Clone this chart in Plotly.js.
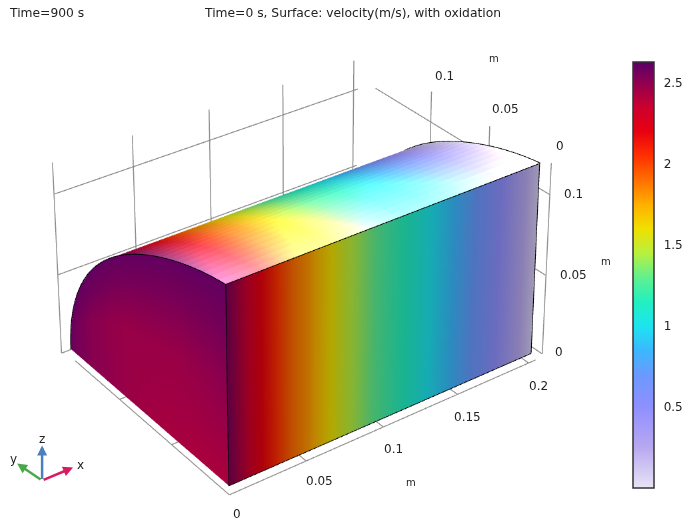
<!DOCTYPE html>
<html><head><meta charset="utf-8"><script src="https://cdn.plot.ly/plotly-3.0.1.min.js"></script>
<style>html,body{margin:0;padding:0;width:686px;height:525px;overflow:hidden;background:#fff}#g{position:absolute}</style></head><body><div id="g"></div>
<script>
var xStations=[0,.01,.02,.03,.04,.05,.06,.07,.08,.09,.1,.11,.12,.13,.14,.15,.16,.17,.18,.19,.2];
var velX=[2.55,2.38,2.2,2.05,1.9,1.8,1.65,1.52,1.42,1.31,1.22,1.15,1.07,.98,.88,.78,.68,.55,.41,.26,.1];
var arcT=[0,.0436,.0872,.1305,.1736,.2164,.2588,.3007,.342,.3827,.4226,.4617,.5,.5373,.5736,.6088,.6428,.6756,.7071,.7373,.766,.7934,.8192,.8434,.866,.887,.9063,.9239,.9397,.9537,.9659,.9763,.9848,.9914,.9962,.999,1];
var arcS=[1,.9935,.9854,.9755,.964,.9511,.9369,.9213,.9045,.8866,.8675,.8473,.826,.8037,.7803,.7557,.73,.7032,.6753,.6462,.616,.5847,.5521,.5184,.4837,.4478,.411,.3733,.3345,.2949,.2545,.2134,.1717,.1294,.0867,.0435,0];
var frontLow=[2.42,2.42,2.42,2.42,2.42,2.42,2.43,2.43,2.43,2.43,2.44,2.44,2.45,2.45,2.46,2.46,2.47,2.47,2.48,2.49,2.5,2.5,2.51,2.51,2.52,2.53,2.54,2.54,2.55,2.55,2.56,2.57,2.58,2.58,2.59,2.59,2.6];
var frontMid=[2.5,2.5,2.49,2.49,2.48,2.48,2.47,2.47,2.47,2.47,2.47,2.47,2.47,2.47,2.47,2.47,2.47,2.48,2.48,2.49,2.5,2.5,2.51,2.51,2.52,2.53,2.54,2.54,2.55,2.55,2.56,2.57,2.58,2.58,2.59,2.59,2.6];
var frontRim=arcT.map(function(){return 2.6});
var barTicks=[.5,1,1.5,2,2.5], barLabels=['0.5','1','1.5','2','2.5'];
var xTicks=[0,.05,.1,.15,.2], yTicks=[.05,.1], zTicks=[0,.05,.1];
var scale=[[0,'#e8e4f4'],[.095,'#b8a8f0'],[.19,'#8f8fff'],[.266,'#6b99ff'],[.323,'#3bb8ff'],[.38,'#1de4f0'],[.437,'#22f0c0'],[.494,'#60f090'],[.551,'#b8f040'],[.608,'#f0e000'],[.665,'#ffb000'],[.722,'#ff7000'],[.78,'#ff3000'],[.837,'#e80010'],[.894,'#cc0030'],[.951,'#900050'],[1,'#5a0068']];
var Rf=[[.8107,-.5858,-.004],[-.2432,-.331,-.9113],[.5321,.7417,-.4113]],t=[-.0267,.2769,1.2393],f=2478,px=276.4,py=-59;
var xR=.2118,yB=.1556,zT=.1192,yF=-.0022,xF=.0022,xO=.0036,yE=.1511,zO=.1215,yRE=.1502,zB=.0035;
var xs=xStations.map(function(v){return v+xO});
var ys=arcT.map(function(v){return v*yE}),zs=arcS.map(function(v){return zB+v*(zO-zB)});
var W=Math.round(.8284*f),H=W,L=px-W/2,T=py-H/2;
var g=document.getElementById('g');g.style.left=L+'px';g.style.top=T+'px';g.style.width=W+'px';g.style.height=H+'px';
var xr=[-.02,.24],yr=[-.02,.18],zr=[-.02,.14];
var K=5,mid=[.11,.08,.06];
var Cw=[0,1,2].map(function(i){return -(Rf[0][i]*t[0]+Rf[1][i]*t[1]+Rf[2][i]*t[2])});
var eye=[0,1,2].map(function(i){return (Cw[i]-mid[i])*K});
var fw=Rf[2],cen=eye.map(function(v,i){return v+fw[i]*6}),up=Rf[1].map(function(v){return -v});
function X(v){return (v-L)/W}function Y(v){return 1-(v-T)/H}
var common={colorscale:scale,cmin:0,cmax:2.63,showscale:false,hoverinfo:'skip'};
function surf(o){return Object.assign({type:'surface'},common,o)}
var traces=[];
traces.push(surf({x:xs,y:ys,z:ys.map(function(_,i){return xs.map(function(){return zs[i]})}),surfacecolor:ys.map(function(){return velX}),
 lighting:{ambient:.78,diffuse:0,specular:.95,roughness:.55,fresnel:.2},lightposition:{x:4600,y:8000,z:4000}}));
traces.push(surf({x:[xs,xs],y:[xs.map(function(){return 0}),xs.map(function(){return 0})],z:[xs.map(function(){return zB}),xs.map(function(){return zO})],surfacecolor:[velX,velX],lighting:{ambient:.75,diffuse:0,specular:0}}));
traces.push(surf({x:[0,1,2].map(function(){return ys.map(function(){return xO})}),y:[ys,ys,ys],z:[ys.map(function(){return zB}),zs.map(function(v){return (v+zB)*.5}),zs],surfacecolor:[frontLow,frontMid,frontRim],lighting:{ambient:.97,diffuse:0,specular:0}}));
traces[0].showscale=true;
traces[0].colorbar={x:X(633),xanchor:'left',y:Y(487),yanchor:'bottom',lenmode:'pixels',len:426,thicknessmode:'pixels',thickness:21,xpad:0,ypad:0,outlinecolor:'#333',outlinewidth:1.5,ticks:'outside',ticklen:7,tickcolor:'rgba(0,0,0,0)',tickvals:barTicks,ticktext:barLabels,tickfont:{family:'DejaVu Sans',size:12,color:'#222'}};
function line(xa,ya,za,c,w){return {type:'scatter3d',mode:'lines',x:xa,y:ya,z:za,line:{color:c,width:w},hoverinfo:'skip',showlegend:false}}
var gx=[],gy=[],gz=[];function seg(a,b){gx.push(a[0],b[0],null);gy.push(a[1],b[1],null);gz.push(a[2],b[2],null)}
xTicks.forEach(function(v,i){seg([v,yB,0],[v,yB,zT]);if(i)seg([v,yB,0],[v,yF,0])});
zTicks.forEach(function(v){seg([0,yB,v],[.203,yB,v]);seg([xR,0,v],[xR,yRE,v])});
seg([xR,0,0],[xR,0,zT]);yTicks.forEach(function(v){seg([xR,v,0],[xR,v,zT]);seg([xF,v,0],[.2,v,0])});
seg([xF,yF,0],[.205,yF,0]);seg([xF,yF,0],[xF,.145,0]);
traces.push(line(gx,gy,gz,'#8c8c8c',2));
var bx=[],by=[],bz=[],eps=.0006;function bs(a,b){bx.push(a[0]-eps,b[0]-eps,null);by.push(a[1]-eps,b[1]-eps,null);bz.push(a[2]+eps,b[2]+eps,null)}
var E=xs[xs.length-1];
ys.forEach(function(v,i){if(i){bs([xO,ys[i-1],zs[i-1]],[xO,v,zs[i]]);bs([E+eps,ys[i-1],zs[i-1]],[E+eps,v,zs[i]])}});
bs([xO,0,zB],[xO,0,zO]);bs([E,0,zB],[E,0,zO]);bs([xO,0,zO],[E,0,zO]);bs([xO,0,zB],[E,0,zB]);
traces.push(line(bx,by,bz,'#000',1.5));
var txt={family:'DejaVu Sans',size:12,color:'#222'},head={family:'DejaVu Sans',size:12.3,color:'#222'},small={family:'DejaVu Sans',size:10,color:'#222'};
function an(s,x,y,fnt){return {text:s,x:X(x),y:Y(y),xref:'paper',yref:'paper',xanchor:'center',yanchor:'middle',showarrow:false,font:fnt||txt}}
function ar(c,x,y){return {x:X(x),y:Y(y),xref:'paper',yref:'paper',ax:42-x,ay:480-y,axref:'pixel',ayref:'pixel',text:'',showarrow:true,arrowhead:2,arrowsize:.8,arrowwidth:2.5,arrowcolor:c}}
var anns=[an('Time=900 s',46,12.5,head),an('Time=0 s, Surface: velocity(m/s), with oxidation',352,12.5,head),
 an('0',237,513),an('0.05',319,480),an('0.1',393,448),an('0.15',467,416),an('0.2',538,385),an('m',411,482,small),
 an('0',559,351),an('0.05',573,274),an('0.1',573,193),an('m',606,261,small),
 an('0',560,145),an('0.05',505,108),an('0.1',444,75),an('m',494,58,small),
 ar('#4a80c0',42,445),ar('#d81b60',73,467),ar('#4aa84a',17,463),an('z',42,438),an('x',80,464),an('y',13,458)];
var shapes=[];barTicks.forEach(function(v){var yy=487-v*162;[[633,637],[650,654]].forEach(function(e){shapes.push({type:'line',xref:'paper',yref:'paper',x0:X(e[0]),x1:X(e[1]),y0:Y(yy),y1:Y(yy),line:{color:'#111',width:1}})})});
function ax(r){return {visible:false,range:r,showspikes:false}}
Plotly.newPlot(g,traces,{width:W,height:H,margin:{l:0,r:0,t:0,b:0,autoexpand:false},paper_bgcolor:'#fff',showlegend:false,annotations:anns,shapes:shapes,
 scene:{domain:{x:[0,1],y:[0,1]},xaxis:ax(xr),yaxis:ax(yr),zaxis:ax(zr),aspectmode:'manual',aspectratio:{x:(xr[1]-xr[0])*K,y:(yr[1]-yr[0])*K,z:(zr[1]-zr[0])*K},
 camera:{eye:{x:eye[0],y:eye[1],z:eye[2]},center:{x:cen[0],y:cen[1],z:cen[2]},up:{x:up[0],y:up[1],z:up[2]},projection:{type:'perspective'}}}},{displayModeBar:false,plotGlPixelRatio:1.5});
</script></body></html>
